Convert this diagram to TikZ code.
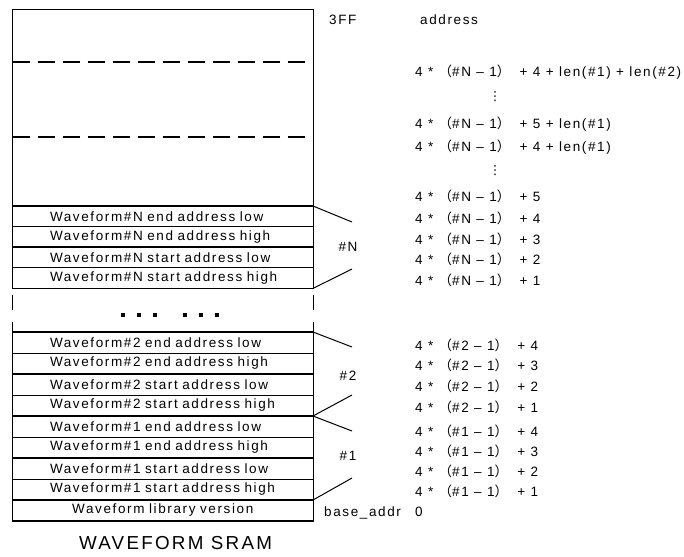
\documentclass[tikz,border=0pt]{standalone}
\usepackage{fontspec}
\setmainfont{Liberation Sans}[LetterSpace=12]
\newfontfamily\cjk{Noto Sans CJK SC}
\newfontfamily\symf{DejaVu Sans}
\usepackage{tikz}
\usetikzlibrary{positioning}

\newcommand{\wf}[2]{\mbox{Waveform\##1 #2}}
\newcommand{\addr}[2]{4 * {\cjk （}\##1 -- 1{\cjk ）}\hspace{4pt} + #2}

\begin{document}
\begin{tikzpicture}[x=1pt, y=-1pt,
    memrow/.style={draw, line width=1pt, text width=225.5pt, inner xsep=37.5pt, inner ysep=0pt,
        align=left, outer sep=0pt, minimum height=21pt, font=\fontsize{13.5}{15}\selectfont},
    sepline/.style={line width=1.6pt},
    brace/.style={line width=1pt},
    addr/.style={anchor=base west, inner sep=0pt, font=\fontsize{13.5}{15}\selectfont},
    grp/.style={inner sep=0pt, font=\fontsize{13.5}{15}\selectfont},
    vdot/.style={inner sep=0pt, font=\symf\fontsize{12.5}{12.5}\selectfont}]
    \useasboundingbox (0,0) rectangle (684,556);

    % free space up to 3FF
    \node[draw, line width=1pt, anchor=north west, inner sep=0pt, outer sep=0pt,
        minimum width=300.5pt, minimum height=196.5pt] (free) at (12.5,9.5) {};
    \draw[line width=1.3pt, dash pattern=on 17pt off 8pt] (12.5,62) -- (313,62);
    \draw[line width=1.3pt, dash pattern=on 17pt off 8pt] (12.5,137) -- (313,137);

    % waveform #N
    \node[memrow, minimum height=20.6pt, anchor=north west] (n1) at (free.south west) {\wf{N}{end address low}};
    \node[memrow, minimum height=20.6pt, below=0pt of n1] (n2) {\wf{N}{end address high}};
    \node[memrow, minimum height=20.6pt, below=0pt of n2] (n3) {\wf{N}{start address low}};
    \node[memrow, minimum height=20.6pt, below=0pt of n3] (n4) {\wf{N}{start address high}};

    % gap
    \draw[line width=1pt] (n4.south west) ++(0,7) -- ++(0,15);
    \draw[line width=1pt] (n4.south east) ++(0,7) -- ++(0,15);
    \foreach \x in {123,139,155,185,201,217}
        \fill (\x-2,313) rectangle ++(4,4);

    % waveform #2 and #1
    \node[memrow, anchor=north west] (t1) at (12.5,332) {\wf{2}{end address low}};
    \node[memrow, below=0pt of t1] (t2) {\wf{2}{end address high}};
    \node[memrow, below=0pt of t2] (t3) {\wf{2}{start address low}};
    \node[memrow, below=0pt of t3] (t4) {\wf{2}{start address high}};
    \node[memrow, below=0pt of t4] (u1) {\wf{1}{end address low}};
    \node[memrow, below=0pt of u1] (u2) {\wf{1}{end address high}};
    \node[memrow, below=0pt of u2] (u3) {\wf{1}{start address low}};
    \node[memrow, below=0pt of u3] (u4) {\wf{1}{start address high}};
    \node[memrow, align=center, below=0pt of u4] (v) {Waveform library version};
    \draw[line width=1pt] (t1.north west) -- ++(0,-10);
    \draw[line width=1pt] (t1.north east) -- ++(0,-10);

    \foreach \r in {n1,n3,t1,t3,u1,u3,v}
        \draw[sepline] (\r.north west) -- (\r.north east);
    \draw[sepline] (n4.south west) -- (n4.south east);
    \draw[sepline] (v.south west) -- (v.south east);

    % group marks
    \coordinate (nTop) at (352,222);
    \coordinate (nBot) at (352,269);
    \coordinate (tTop) at (352,347);
    \coordinate (tBot) at (352,395);
    \coordinate (uTop) at (352,431);
    \coordinate (uBot) at (352,478);
    \draw[brace] (n1.north east) -- (nTop);
    \draw[brace] (n4.south east) -- (nBot);
    \draw[brace] (t1.north east) -- (tTop);
    \draw[brace] (t4.south east) -- (tBot);
    \draw[brace] (u1.north east) -- (uTop);
    \draw[brace] (u4.south east) -- (uBot);
    \node[grp] (gN) at (348,247) {\#N};
    \node[grp] (g2) at (348,376) {\#2};
    \node[grp] (g1) at (348,456) {\#1};

    % addresses
    \node[addr] (hi) at (329,24.7) {3FF};
    \node[addr] (hdr) at (420,24.7) {address};
    \node[addr] (lenb) at (415,76.7) {\addr{N}{4 + len(\#1) + len(\#2)}};
    \node[vdot] (vd1) at (495,97) {⋮};
    \node[addr] (lena5) at (415,128.7) {\addr{N}{5 + len(\#1)}};
    \node[addr] (lena4) at (415,151.7) {\addr{N}{4 + len(\#1)}};
    \node[vdot] (vd2) at (495,171) {⋮};
    \node[addr] (aN5) at (415,201.7) {\addr{N}{5}};
    \node[addr] (aN4) at (415,223.7) {\addr{N}{4}};
    \node[addr] (aN3) at (415,244.7) {\addr{N}{3}};
    \node[addr] (aN2) at (415,264.7) {\addr{N}{2}};
    \node[addr] (aN1) at (415,285.7) {\addr{N}{1}};
    \node[addr] (a24) at (415,350.7) {\addr{2}{4}};
    \node[addr] (a23) at (415,370.7) {\addr{2}{3}};
    \node[addr] (a22) at (415,391.7) {\addr{2}{2}};
    \node[addr] (a21) at (415,412.7) {\addr{2}{1}};
    \node[addr] (a14) at (415,436.7) {\addr{1}{4}};
    \node[addr] (a13) at (415,456.7) {\addr{1}{3}};
    \node[addr] (a12) at (415,476.7) {\addr{1}{2}};
    \node[addr] (a11) at (415,496.7) {\addr{1}{1}};
    \node[addr] (base) at (324,516.7) {base\_addr};
    \node[addr] (zero) at (415,516.7) {0};

    \node[inner sep=0pt, font=\fontsize{18.8}{20}\selectfont] (title) at (175.5,543) {WAVEFORM SRAM};
\end{tikzpicture}
\end{document}
